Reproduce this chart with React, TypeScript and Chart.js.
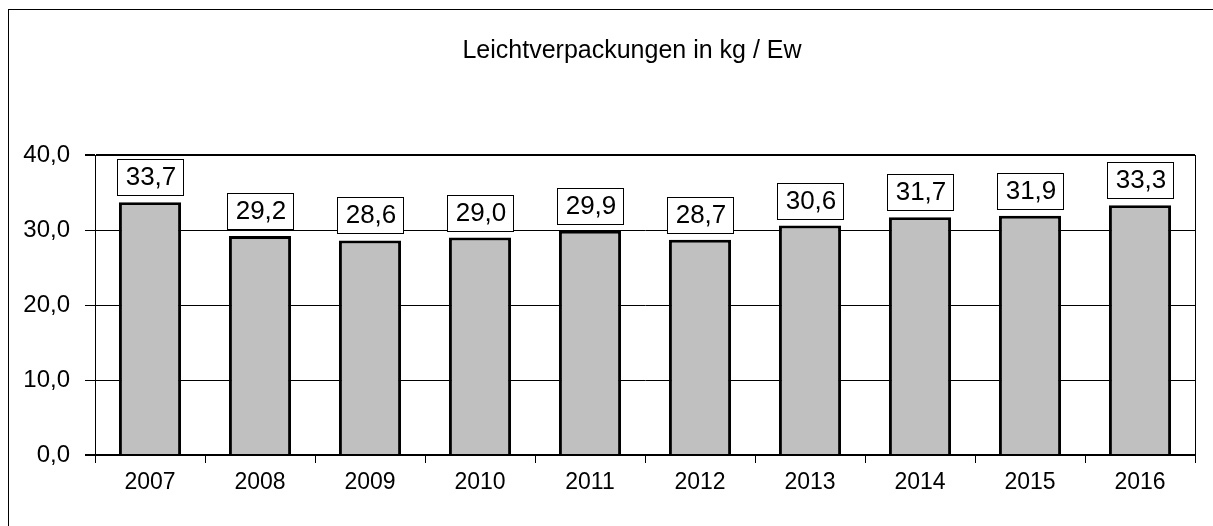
import React, { useEffect, useRef } from "react";
import { Chart, registerables } from "chart.js";

Chart.register(...registerables);

const TITLE = "Leichtverpackungen in kg / Ew";
const YEARS = ["2007", "2008", "2009", "2010", "2011", "2012", "2013", "2014", "2015", "2016"];
const VALUES = [33.7, 29.2, 28.6, 29.0, 29.9, 28.7, 30.6, 31.7, 31.9, 33.3];
const Y_MIN = 0;
const Y_MAX = 40;
const Y_STEP = 10;

const FONT = "'Liberation Sans', Arial, sans-serif";
const fmt = (v: number) => v.toFixed(1).replace(".", ",");

const labelPlugin = {
  id: "boxLabels",
  afterDatasetsDraw(chart: any) {
    const ctx = chart.ctx;
    const meta = chart.getDatasetMeta(0);
    ctx.save();
    ctx.font = `26px ${FONT}`;
    ctx.textAlign = "center";
    ctx.textBaseline = "middle";
    meta.data.forEach((bar: any, i: number) => {
      const w = 66;
      const h = 36;
      const cx = Math.round(bar.x);
      const bottom = Math.round(bar.y) - 7;
      const left = cx - w / 2;
      const top = bottom - h;
      ctx.fillStyle = "#fff";
      ctx.fillRect(left, top, w, h);
      ctx.strokeStyle = "#000";
      ctx.lineWidth = 1;
      ctx.strokeRect(left + 0.5, top + 0.5, w, h);
      ctx.fillStyle = "#000";
      ctx.fillText(fmt(VALUES[i]), cx + 1, top + h / 2 + 1);
    });
    ctx.restore();
  },
  afterDraw(chart: any) {
    const ctx = chart.ctx;
    const a = chart.chartArea;
    ctx.save();
    ctx.strokeStyle = "#000";
    ctx.lineWidth = 1;
    ctx.beginPath();
    ctx.moveTo(Math.round(a.right) + 0.5, a.top);
    ctx.lineTo(Math.round(a.right) + 0.5, a.bottom);
    ctx.stroke();
    ctx.font = `25px ${FONT}`;
    ctx.fillStyle = "#000";
    ctx.textAlign = "center";
    ctx.textBaseline = "alphabetic";
    ctx.fillText(TITLE, 632, 58);
    ctx.restore();
  },
};

export default function App() {
  const ref = useRef<HTMLCanvasElement>(null);
  useEffect(() => {
    if (!ref.current) return;
    const chart = new Chart(ref.current, {
      type: "bar",
      data: {
        labels: YEARS,
        datasets: [
          {
            data: VALUES,
            backgroundColor: "#c0c0c0",
            borderColor: "#000",
            borderWidth: 3,
            borderSkipped: "start",
            barPercentage: 0.565,
            categoryPercentage: 1,
          },
        ],
      },
      options: {
        animation: false,
        responsive: false,
        devicePixelRatio: 1,
        layout: { padding: { top: 155, right: 18, bottom: 0, left: 0 } },
        plugins: {
          legend: { display: false },
          tooltip: { enabled: false },
          title: { display: false },
        },
        scales: {
          x: {
            grid: {
              offset: true,
              drawOnChartArea: false,
              drawTicks: true,
              tickLength: 8,
              color: "#000",
              lineWidth: 1,
            },
            border: { color: "#000", width: 2 },
            ticks: {
              color: "#000",
              font: { size: 23, family: FONT },
              padding: 6,
              maxRotation: 0,
            },
            afterFit: (s: any) => {
              s.height = 71;
            },
          },
          y: {
            min: Y_MIN,
            max: Y_MAX,
            ticks: {
              stepSize: Y_STEP,
              color: "#000",
              font: { size: 24, family: FONT },
              padding: 15,
              callback: (v: any) => fmt(Number(v)),
            },
            grid: {
              color: "#000",
              lineWidth: (c: any) => (c.tick && (c.tick.value === Y_MAX || c.tick.value === Y_MIN) ? 2 : 1),
              tickLength: 10,
            },
            border: { color: "#000", width: 1 },
            afterFit: (s: any) => {
              s.width = 95;
            },
          },
        },
      },
      plugins: [labelPlugin],
    });
    return () => chart.destroy();
  }, []);

  return (
    <div style={{ position: "fixed", left: 0, top: 0, width: 1213, height: 526, overflow: "hidden", background: "#fff" }}>
      <div
        style={{
          position: "absolute",
          left: 8,
          top: 9,
          width: 1400,
          height: 700,
          borderLeft: "1px solid #000",
          borderTop: "1px solid #000",
        }}
      />
      <canvas ref={ref} width={1213} height={526} style={{ position: "absolute", left: 0, top: 0, width: 1213, height: 526 }} />
    </div>
  );
}
